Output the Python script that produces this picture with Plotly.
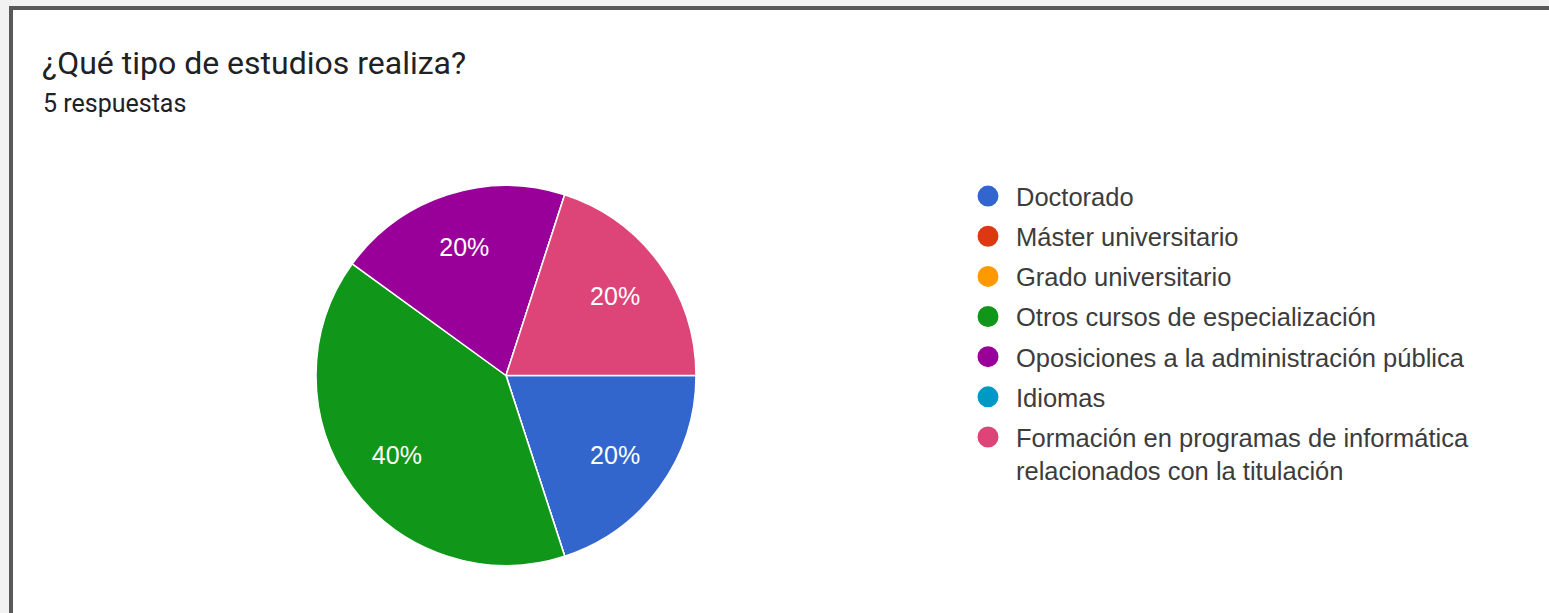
import plotly.graph_objects as go

W, H = 1549, 613

title_text = "¿Qué tipo de estudios realiza?"
subtitle_text = "5 respuestas"
categories = [
    "Doctorado",
    "Máster universitario",
    "Grado universitario",
    "Otros cursos de especialización",
    "Oposiciones a la administración pública",
    "Idiomas",
    "Formación en programas de informática<br>relacionados con la titulación",
]
counts = [1, 0, 0, 2, 1, 0, 1]
colors = ["#3366cc", "#dc3912", "#ff9900", "#109618", "#990099", "#0099c6", "#dd4477"]

def px_x(x):
    return x / W

def px_y(y):
    return 1 - y / H

pie_domain = dict(x=[px_x(316), px_x(696)], y=[px_y(566), px_y(185)])

fig = go.Figure()

# slices
fig.add_trace(go.Pie(
    labels=categories,
    values=counts,
    sort=False,
    direction="clockwise",
    rotation=90,
    marker=dict(colors=colors, line=dict(color="white", width=1.5)),
    textinfo="none",
    showlegend=False,
    hoverinfo="label+percent",
    domain=pie_domain,
))

# percentage labels (same data, transparent ring so labels sit further out)
fig.add_trace(go.Pie(
    labels=categories,
    values=counts,
    sort=False,
    direction="clockwise",
    rotation=90,
    hole=0.42,
    marker=dict(colors=["rgba(0,0,0,0)"] * len(colors), line=dict(width=0)),
    texttemplate="%{percent:.0%}",
    textposition="inside",
    insidetextorientation="horizontal",
    textfont=dict(family="Liberation Sans, Arial", size=25, color="white"),
    showlegend=False,
    hoverinfo="skip",
    domain=pie_domain,
))

# legend entries (dummy traces with circle markers)
for name, col in zip(categories, colors):
    fig.add_trace(go.Scatter(
        x=[None], y=[None], mode="markers", name=name,
        legendgroup=name,
        marker=dict(symbol="circle", size=16, color=col, line=dict(color=col, width=5)),
    ))

fig.update_layout(
    width=W, height=H, autosize=False,
    margin=dict(l=0, r=0, t=0, b=0),
    paper_bgcolor="white", plot_bgcolor="white",
    xaxis=dict(visible=False), yaxis=dict(visible=False),
    legend=dict(
        x=px_x(960), y=px_y(173), xanchor="left", yanchor="top",
        font=dict(family="Liberation Sans, Arial", size=25.5, color="#3c3c3c"),
        itemwidth=46, tracegroupgap=4, valign="top",
        bgcolor="rgba(0,0,0,0)",
    ),
    shapes=[
        dict(type="rect", xref="paper", yref="paper", x0=0, x1=1, y0=px_y(6), y1=1,
             fillcolor="#f2f2f2", line=dict(width=0), layer="above"),
        dict(type="rect", xref="paper", yref="paper", x0=0, x1=px_x(9), y0=0, y1=1,
             fillcolor="#f2f2f2", line=dict(width=0), layer="above"),
        dict(type="rect", xref="paper", yref="paper", x0=px_x(9), x1=1, y0=px_y(10), y1=px_y(6),
             fillcolor="#595959", line=dict(width=0), layer="above"),
        dict(type="rect", xref="paper", yref="paper", x0=px_x(9), x1=px_x(13), y0=0, y1=px_y(6),
             fillcolor="#595959", line=dict(width=0), layer="above"),
    ],
    annotations=[
        dict(text=title_text, xref="paper", yref="paper", x=px_x(40), y=px_y(63),
             xanchor="left", yanchor="middle", showarrow=False,
             font=dict(family="Roboto", size=32, color="#202124")),
        dict(text=subtitle_text, xref="paper", yref="paper", x=px_x(41), y=px_y(103),
             xanchor="left", yanchor="middle", showarrow=False,
             font=dict(family="Roboto", size=25, color="#202124")),
    ],
)

fig.write_html(
    "out.html",
    config={"displayModeBar": False},
    post_script="document.body.style.margin='0';document.body.style.overflow='hidden';",
)
